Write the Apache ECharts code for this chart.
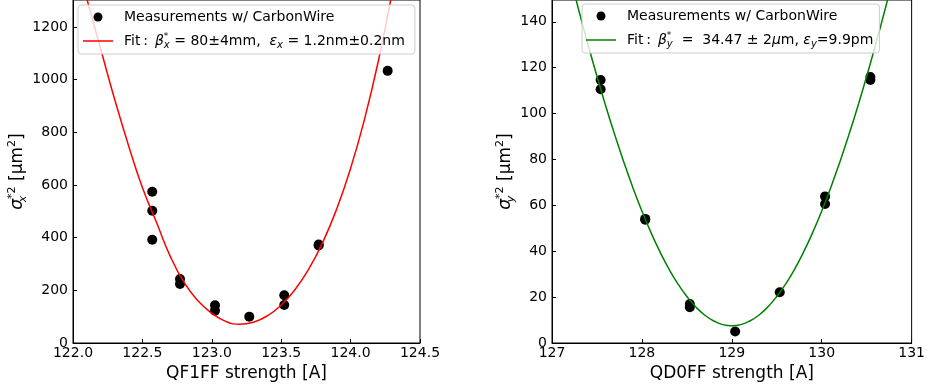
<!DOCTYPE html>
<html>
<head>
<meta charset="utf-8">
<script src="https://cdn.jsdelivr.net/npm/echarts@6/dist/echarts.min.js"></script>
<style>html,body{margin:0;padding:0;background:#fff}#c{width:928px;height:390px}</style>
</head>
<body>
<div id="c"></div>
<script>
// ---- Left panel (QF1FF) ----
const measX_L = [122.571, 122.571, 122.571, 122.771, 122.771, 123.023, 123.023, 123.27, 123.522, 123.522, 123.77, 123.77, 124.267];
const measY_L = [574, 502, 392, 243, 224, 143, 123, 100, 181, 144, 374, 370, 1033];
const fitX_L = [122.1, 122.2, 122.3, 122.4, 122.5, 122.6, 122.7, 122.8, 122.9, 123.0, 123.1, 123.2, 123.3, 123.4, 123.5, 123.6, 123.7, 123.8, 123.9, 124.0, 124.1, 124.2, 124.3];
const fitY_L = [1306, 1115, 925, 750, 590, 460, 330, 230, 160, 113, 82, 71, 79, 103, 144, 203, 282, 383, 509, 663, 849, 1071, 1334];

// ---- Right panel (QD0FF) ----
const measX_R = [127.541, 127.541, 128.037, 128.037, 128.533, 128.533, 129.037, 129.533, 130.037, 130.037, 130.541, 130.541];
const measY_R = [114.6, 110.6, 54.1, 53.7, 17.0, 15.6, 5.0, 22.1, 63.9, 60.6, 115.9, 114.6];
const fitX_R = [127.2, 127.3, 127.4, 127.5, 127.6, 127.7, 127.8, 127.9, 128.0, 128.1, 128.2, 128.3, 128.4, 128.5, 128.6, 128.7, 128.8, 128.9, 129.0, 129.1, 129.2, 129.3, 129.4, 129.5, 129.6, 129.7, 129.8, 129.9, 130.0, 130.1, 130.2, 130.3, 130.4, 130.5, 130.6, 130.7, 130.8];
const fitY_R = [159.9, 144.7, 130.2, 116.3, 103.0, 90.5, 78.7, 67.7, 57.5, 48.2, 39.8, 32.3, 25.8, 20.3, 15.7, 12.1, 9.6, 8.0, 7.5, 8.0, 9.6, 12.1, 15.7, 20.3, 25.8, 32.3, 39.8, 48.2, 57.5, 67.7, 78.7, 90.5, 103.0, 116.3, 130.2, 144.7, 159.9];

const measName = 'Measurements w/ CarbonWire';
const fitNameL = 'Fit x';
const fitNameR = 'Fit y';

const zip = (xs, ys) => xs.map((x, i) => [x, ys[i]]);
const FF = 'DejaVu Sans';

const richBase = {
  r: { fontSize: 14, fontFamily: FF, color: '#000', lineHeight: 18 },
  r1: { fontSize: 14, fontFamily: FF, color: '#000', lineHeight: 18, padding: [0, 0, 0, 6] },
  i: { fontSize: 14, fontFamily: FF, fontStyle: 'italic', color: '#000', lineHeight: 18 },
  spz: { fontSize: 9, fontFamily: FF, color: '#000', lineHeight: 9, verticalAlign: 'top', width: 0 },
  sb: { fontSize: 10, fontFamily: FF, fontStyle: 'italic', color: '#000', lineHeight: 10, verticalAlign: 'bottom' }
};

const lineIcon = 'path://M0,0L40,0L40,2L0,2Z';

const legendCommon = {
  orient: 'vertical',
  itemWidth: 30,
  itemHeight: 9,
  itemGap: 8,
  selectedMode: false,
  symbolKeepAspect: true,
  backgroundColor: 'rgba(255,255,255,0.8)',
  borderColor: '#cccccc',
  borderWidth: 1,
  borderRadius: 3,
  textStyle: { rich: richBase }
};

const nameRich = {
  r: { fontSize: 17, fontFamily: FF, color: '#000', lineHeight: 22 },
  i: { fontSize: 17, fontFamily: FF, fontStyle: 'italic', color: '#000', lineHeight: 22 },
  sbz: { fontSize: 11, fontFamily: FF, fontStyle: 'italic', color: '#000', lineHeight: 11, verticalAlign: 'bottom', width: 0 },
  sp2: { fontSize: 11, fontFamily: FF, color: '#000', lineHeight: 11, verticalAlign: 'top' }
};

function xAxisCfg(gi, min, max, interval, name, dec) {
  return {
    gridIndex: gi, type: 'value', min: min, max: max, interval: interval,
    axisLine: { lineStyle: { color: '#000', width: 1 } },
    axisTick: { inside: true, length: 4, lineStyle: { color: '#000' } },
    axisLabel: { color: '#000', fontSize: 14, fontFamily: FF, margin: 3, formatter: v => v.toFixed(dec) },
    splitLine: { show: false },
    name: name, nameLocation: 'middle', nameGap: 20,
    nameTextStyle: { fontSize: 17, fontFamily: FF, color: '#000' }
  };
}
function yAxisCfg(gi, max, interval, name, gap) {
  return {
    gridIndex: gi, type: 'value', min: 0, max: max, interval: interval,
    axisLine: { show: true, lineStyle: { color: '#000', width: 1 } },
    axisTick: { show: true, inside: true, length: 4, lineStyle: { color: '#000' } },
    axisLabel: { color: '#000', fontSize: 14, fontFamily: FF, margin: 5, showMaxLabel: false, formatter: v => String(v) },
    splitLine: { show: false },
    name: name, nameLocation: 'middle', nameGap: gap, nameRotate: 90,
    nameTextStyle: { rich: nameRich }
  };
}

const chart = echarts.init(document.getElementById('c'), null, { renderer: 'canvas' });
chart.setOption({
  animation: false,
  backgroundColor: '#fff',
  grid: [
    { left: 73, right: 508, top: -2, bottom: 47, show: true, borderColor: '#000', borderWidth: 1, backgroundColor: 'transparent' },
    { left: 552, right: 16, top: -2, bottom: 47, show: true, borderColor: '#000', borderWidth: 1, backgroundColor: 'transparent' }
  ],
  xAxis: [
    xAxisCfg(0, 122, 124.5, 0.5, 'QF1FF strength [A]', 1),
    xAxisCfg(1, 127, 131, 1, 'QD0FF strength [A]', 0)
  ],
  yAxis: [
    yAxisCfg(0, 1302, 200, '{i|σ}{sbz|x}{sp2|*2}{r| [µm}{sp2|2}{r|]}', 32),
    yAxisCfg(1, 149.5, 20, '{i|σ}{sbz|y}{sp2|*2}{r| [µm}{sp2|2}{r|]}', 33)
  ],
  legend: [
    Object.assign({}, legendCommon, {
      left: 78, top: 5, padding: [5, 10, 4, 5],
      data: [measName, { name: fitNameL, icon: lineIcon }],
      formatter: function (n) {
        if (n === fitNameL) return '{r1|Fit\u2009:\u2002}{i|β}{spz|*}{sb|x}{r| = 80±4mm,  }{i|ε}{sb|x}{r| = 1.2nm±0.2nm}';
        return '{r1|' + n + '}';
      }
    }),
    Object.assign({}, legendCommon, {
      left: 582, top: 4, padding: [5, 6, 4, 4],
      data: [measName, { name: fitNameR, icon: lineIcon }],
      formatter: function (n) {
        if (n === fitNameR) return '{r1|Fit\u2009:\u2002}{i|β}{spz|*}{sb|y}{r|  =  34.47 ± 2}{i|μ}{r|m, }{i|ε}{sb|y}{r|=9.9pm}';
        return '{r1|' + n + '}';
      }
    })
  ],
  series: [
    { name: measName, type: 'scatter', xAxisIndex: 0, yAxisIndex: 0, data: zip(measX_L, measY_L), symbolSize: 10, itemStyle: { color: '#000', opacity: 1 }, z: 2 },
    { name: fitNameL, type: 'line', xAxisIndex: 0, yAxisIndex: 0, data: zip(fitX_L, fitY_L), smooth: true, symbol: 'none', showSymbol: false, lineStyle: { color: '#ff0000', width: 1.5 }, itemStyle: { color: '#ff0000' }, z: 3 },
    { name: measName, type: 'scatter', xAxisIndex: 1, yAxisIndex: 1, data: zip(measX_R, measY_R), symbolSize: 10, itemStyle: { color: '#000', opacity: 1 }, z: 2 },
    { name: fitNameR, type: 'line', xAxisIndex: 1, yAxisIndex: 1, data: zip(fitX_R, fitY_R), smooth: true, symbol: 'none', showSymbol: false, lineStyle: { color: '#008000', width: 1.5 }, itemStyle: { color: '#008000' }, z: 3 }
  ]
});
</script>
</body>
</html>
